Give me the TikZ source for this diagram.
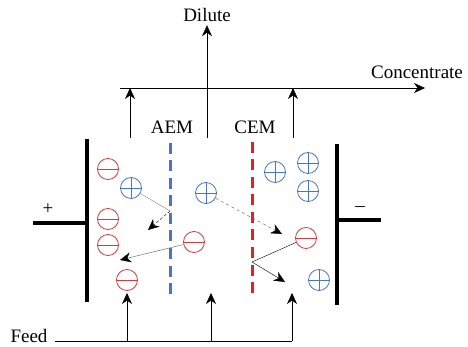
\documentclass[tikz,border=0pt]{standalone}
\usepackage{fontspec}
\setmainfont{Liberation Serif}
\usetikzlibrary{arrows.meta,positioning}
\definecolor{ionred}{RGB}{214,58,58}
\definecolor{ionblue}{RGB}{72,118,196}
\definecolor{memred}{RGB}{226,34,34}

\begin{document}
\begin{tikzpicture}[
  x=1pt, y=-1pt,
  font=\fontsize{19}{22}\selectfont,
  anion/.style={circle, draw=ionred, line width=0.8pt, minimum size=21pt, inner sep=0pt,
    path picture={\draw[ionred, line width=0.8pt] (path picture bounding box.west) -- (path picture bounding box.east);}},
  cation/.style={circle, draw=ionblue, line width=0.8pt, minimum size=21pt, inner sep=0pt,
    path picture={\draw[ionblue, line width=0.8pt] (path picture bounding box.west) -- (path picture bounding box.east)
      (path picture bounding box.north) -- (path picture bounding box.south);}},
  flecha/.style={-{Stealth[length=11pt, width=10pt]}, thin},
  mov/.style={-{Stealth[length=11pt, width=10pt, black]}, thin},
  electrodo/.style={line width=4.5pt},
  membrana/.style={line width=3pt, dash pattern=on 11pt off 6.5pt}
]
\useasboundingbox (0,0) rectangle (468,347);

% labels
\node (dil) at (207,15) {Dilute};
\node (conc) at (417,72) {Concentrate};
\node (aem) at (172,127) {AEM};
\node (cem) at (255,127) {CEM};
\node (feed) at (29,336) {Feed};
\node (pos) at (48,209) {+};
\node (neg) at (360,209) {–};

% outlet streams
\coordinate (topL) at (120,88);
\coordinate (topR) at (425,88);
\coordinate (outA) at (130,138);
\coordinate (outB) at (207,138);
\coordinate (outC) at (293,138);
\draw[flecha] (topL) -- (topR);
\draw[flecha] (outA) -- (outA |- topL);
\draw[flecha] (outC) -- (outC |- topL);
\draw[flecha] (outB) -- (dil.south);

% feed streams
\coordinate (feedL) at (55,341);
\coordinate (feedR) at (292,341);
\coordinate (inA) at (127,293);
\coordinate (inB) at (211,293);
\coordinate (inC) at (292,293);
\draw[thin] (feedL) -- (feedR);
\foreach \p in {inA,inB,inC}
  \draw[flecha] (\p |- feedL) -- (\p);

% electrodes
\draw[electrodo] (87,139) -- (87,302);
\draw[electrodo] (33,223) -- (87,223);
\draw[electrodo] (337,144) -- (337,305);
\draw[electrodo] (337,220) -- (381,220);

% membranes
\draw[membrana, ionblue] (170,143) -- (170,294);
\draw[membrana, memred] (252,142) -- (252,293);

% ions
\node[anion] (a1) at (108,169) {};
\node[cation] (c1) at (131,188) {};
\node[anion] (a2) at (108,219) {};
\node[anion] (a3) at (108,245) {};
\node[anion] (a4) at (127,280) {};
\node[cation] (c2) at (206,193) {};
\node[anion] (a5) at (194,242) {};
\node[cation] (c3) at (275,172) {};
\node[cation] (c4) at (308,163) {};
\node[cation] (c5) at (308,191) {};
\node[anion] (a6) at (306,238) {};
\node[cation] (c6) at (319,280) {};

% ion movement
\coordinate (hitA) at (170,211);
\coordinate (hitC) at (252,262);
\draw[thin, gray] (c1) -- (hitA);
\draw[mov, densely dashed] (hitA) -- (148,230);
\draw[mov, gray!70!black] (a5) -- (120,260);
\draw[mov, dashed, gray!70!black] (c2) -- (282,234);
\draw[thin] (a6) -- (hitC);
\draw[mov] (hitC) -- (285,282);
\end{tikzpicture}
\end{document}
